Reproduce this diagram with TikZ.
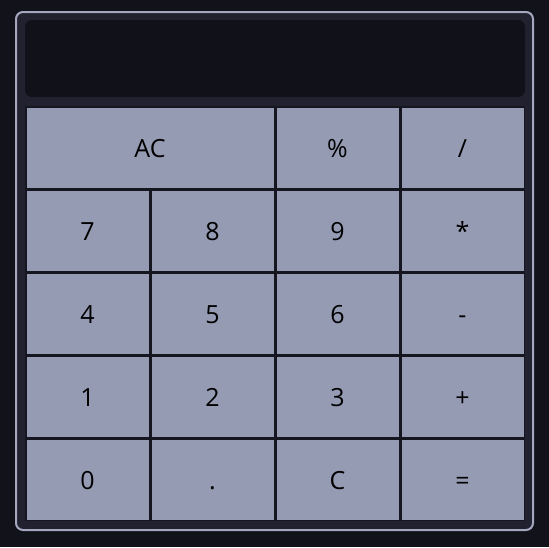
\documentclass[tikz,border=0pt]{standalone}
\usepackage{fontspec}
\setmainfont{Open Sans}
\usepackage{tikz}
\definecolor{pagebg}{RGB}{18,18,27}
\definecolor{cardbg}{RGB}{33,33,48}
\definecolor{cardrim}{RGB}{165,167,190}
\definecolor{screenbg}{RGB}{17,17,25}
\definecolor{keyfill}{RGB}{150,155,180}
\definecolor{keyrim}{RGB}{22,22,32}

\tikzset{
    keybox/.style={draw=keyrim, fill=keyfill, line width=1.5pt,
        minimum width=123.5pt, minimum height=81.5pt, inner sep=0pt,
        text height=19pt, text depth=0pt,
        text=black, font=\fontsize{25}{30}\selectfont},
    widekey/.style={keybox, minimum width=248.5pt}
}

\begin{document}
\begin{tikzpicture}[x=1pt, y=-1pt]
        \fill[pagebg] (0,0) rectangle (549,547);
        \useasboundingbox (0,0) rectangle (549,547);
        \draw[cardrim, fill=cardbg, line width=2pt, rounded corners=7pt](16,12) rectangle (533,530);
        \fill[screenbg, rounded corners=7pt](25,20) rectangle (525,97);
        % top row
        \node[widekey] (kAC) at (150,147.5) {AC};
        \node[keybox] (kpct) at (337.5,147.5) {\%};
        \node[keybox] (kdiv) at (462.5,147.5) {/};
        % remaining rows
        \foreach \y/\a/\b/\c/\d/\n in {230.5/7/8/9/*/r1, 313.5/4/5/6/-/r2,
                                     396.5/1/2/3/+/r3, 479.5/0/./C/=/r4}{
            \node[keybox] (\n a) at (87.5,\y) {\a};
            \node[keybox] (\n b) at (212.5,\y) {\b};
            \node[keybox] (\n c) at (337.5,\y) {\c};
            \node[keybox] (\n d) at (462.5,\y) {\d};
        }
    \end{tikzpicture}
\end{document}
